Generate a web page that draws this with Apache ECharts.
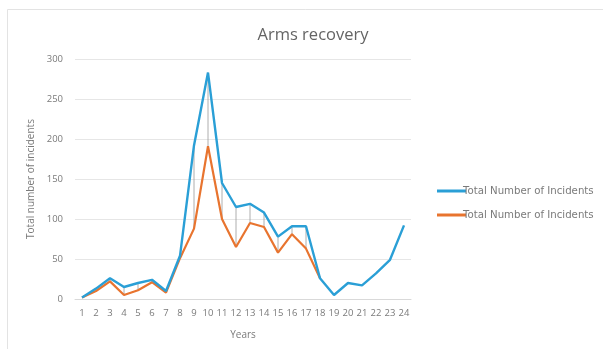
<!DOCTYPE html>
<html>
<head>
<meta charset="utf-8">
<script src="https://cdn.jsdelivr.net/npm/echarts@6/dist/echarts.min.js"></script>
<style>
  html, body { margin: 0; padding: 0; background: #fff; }
  #chart { width: 603px; height: 349px; }
</style>
</head>
<body>
<div id="chart"></div>
<script>
// Years 1..24 along the x axis
const years = ['1','2','3','4','5','6','7','8','9','10','11','12','13','14','15','16','17','18','19','20','21','22','23','24'];

// First series: total incidents per year
const seriesA = [2, 13, 26, 15, 20, 24, 10, 54, 192, 283, 145, 115, 119, 108, 78, 91, 91, 26, 5, 20, 17, 32, 49, 92];

// Second series: recorded only through year 18
const seriesB = [2, 10, 22, 5, 11, 21, 8, 51, 88, 191, 100, 65, 95, 90, 58, 81, 63, 26, null, null, null, null, null, null];

const yTicks = { min: 0, max: 300, interval: 50 };
const legendName = 'Total Number of Incidents';

// High-low connectors between the two series where both have values
const hiLo = [];
years.forEach((y, i) => {
  if (seriesA[i] != null && seriesB[i] != null) hiLo.push([i, seriesA[i], seriesB[i]]);
});

const chart = echarts.init(document.getElementById('chart'), null, { renderer: 'canvas' });
const font = 'Open Sans, Noto Sans, sans-serif';

chart.setOption({
  backgroundColor: '#ffffff',
  animation: false,
  textStyle: { fontFamily: font },
  graphic: [{
    type: 'rect',
    shape: { x: 7.5, y: 9.5, width: 620, height: 360 },
    style: { fill: 'none', stroke: '#e3e3e3', lineWidth: 1 },
    silent: true
  }],
  title: {
    text: 'Arms recovery',
    left: 308,
    textAlign: 'center',
    top: 22,
    textStyle: { fontFamily: font, fontSize: 16.5, fontWeight: 'normal', color: '#646464' }
  },
  legend: {
    orient: 'vertical',
    left: 432,
    top: 181,
    itemWidth: 29,
    itemHeight: 3,
    itemGap: 14,
    icon: 'rect',
    textStyle: { fontFamily: 'DejaVu Sans, sans-serif', fontSize: 10.2, color: '#7a7a7a', padding: [0, 0, 0, -8] },
    data: [
      { name: legendName, itemStyle: { color: '#2a9fd6' } },
      { name: legendName + ' ', itemStyle: { color: '#e8742f' } }
    ],
    formatter: n => n.trim()
  },
  grid: { left: 75, right: 192, top: 59, bottom: 50, containLabel: false },
  xAxis: {
    type: 'category',
    data: years,
    boundaryGap: true,
    name: 'Years',
    nameLocation: 'middle',
    nameGap: 31,
    nameTextStyle: { fontFamily: font, fontSize: 10, color: '#7a7a7a' },
    axisLine: { show: true, lineStyle: { color: '#d9d9d9' } },
    axisTick: { show: false },
    axisLabel: { interval: 0, fontSize: 9.5, color: '#7a7a7a', margin: 9, fontFamily: font }
  },
  yAxis: {
    type: 'value',
    min: yTicks.min,
    max: yTicks.max,
    interval: yTicks.interval,
    name: 'Total number of incidents',
    nameLocation: 'middle',
    nameGap: 38,
    nameTextStyle: { fontFamily: font, fontSize: 10, color: '#7a7a7a' },
    axisLine: { show: false },
    axisTick: { show: false },
    axisLabel: { fontSize: 9.5, color: '#7a7a7a', margin: 12, fontFamily: font },
    splitLine: { lineStyle: { color: '#e6e6e6', width: 1 } }
  },
  series: [
    {
      type: 'custom',
      z: 1,
      silent: true,
      data: hiLo,
      encode: { x: 0, y: [1, 2] },
      renderItem: (params, api) => {
        const p1 = api.coord([api.value(0), api.value(1)]);
        const p2 = api.coord([api.value(0), api.value(2)]);
        return {
          type: 'line',
          shape: { x1: p1[0], y1: p1[1], x2: p2[0], y2: p2[1] },
          style: { stroke: '#9a9a9a', lineWidth: 0.8 }
        };
      }
    },
    {
      name: legendName + ' ',
      type: 'line',
      data: seriesB,
      z: 2,
      symbol: 'none',
      connectNulls: false,
      lineStyle: { color: '#e8742f', width: 2.2 },
      itemStyle: { color: '#e8742f' }
    },
    {
      name: legendName,
      type: 'line',
      data: seriesA,
      z: 3,
      symbol: 'none',
      lineStyle: { color: '#2a9fd6', width: 2.4 },
      itemStyle: { color: '#2a9fd6' }
    }
  ]
});
</script>
</body>
</html>
